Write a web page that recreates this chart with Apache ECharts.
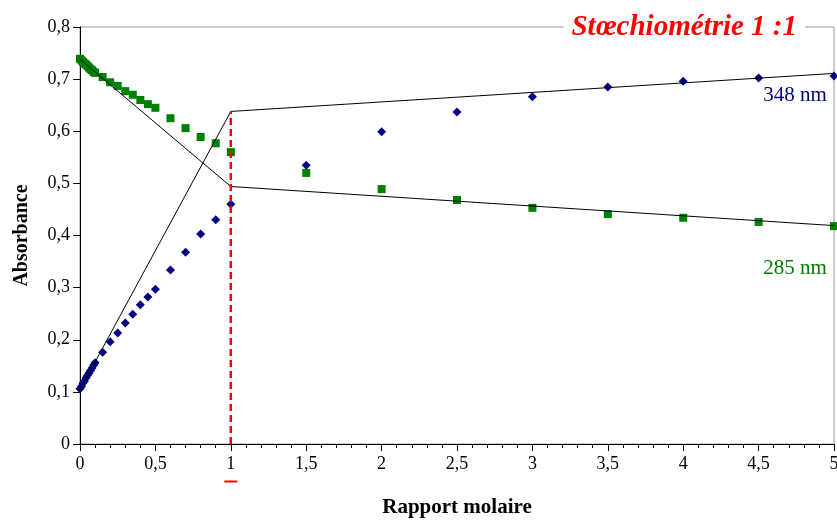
<!DOCTYPE html>
<html>
<head>
<meta charset="utf-8">
<script src="https://cdn.jsdelivr.net/npm/echarts@6/dist/echarts.min.js"></script>
<style>
  html, body { margin: 0; padding: 0; background: #fff; }
  #chart { width: 837px; height: 520px; }
</style>
</head>
<body>
<div id="chart"></div>
<script>
// Molar ratio (x) and absorbance readings at the two wavelengths
const ratios = [0, 0.01, 0.02, 0.03, 0.04, 0.05, 0.06, 0.07, 0.08, 0.09, 0.1,
  0.15, 0.2, 0.25, 0.3, 0.35, 0.4, 0.45, 0.5, 0.6, 0.7, 0.8, 0.9, 1,
  1.5, 2, 2.5, 3, 3.5, 4, 4.5, 5];
const abs348 = [0.106, 0.111, 0.117, 0.121, 0.127, 0.132, 0.136, 0.141, 0.146, 0.151, 0.156,
  0.176, 0.196, 0.213, 0.232, 0.249, 0.267, 0.282, 0.297, 0.334, 0.368, 0.403, 0.430, 0.460,
  0.535, 0.599, 0.637, 0.666, 0.685, 0.696, 0.702, 0.706];
const abs285 = [0.739, 0.736, 0.733, 0.730, 0.728, 0.725, 0.722, 0.719, 0.717, 0.714, 0.712,
  0.704, 0.694, 0.687, 0.677, 0.670, 0.660, 0.652, 0.645, 0.625, 0.606, 0.589, 0.577, 0.560,
  0.520, 0.489, 0.468, 0.453, 0.441, 0.434, 0.426, 0.418];

// Two-segment linear fits, breaking at the equivalence ratio
const fitX = [0, 1, 5];
const fit348 = [0.104, 0.638, 0.711];
const fit285 = [0.738, 0.494, 0.419];
const equivRatio = 1;

const xTicks = { min: 0, max: 5, interval: 0.5 };
const yTicks = { min: 0, max: 0.8, interval: 0.1 };

const NAVY = '#000080';
const GREEN = '#008000';
const SERIF = '"Liberation Serif", "Times New Roman", serif';
const comma = v => String(+v.toFixed(2)).replace('.', ',');

const pts = (xs, ys) => xs.map((x, i) => [x, ys[i]]);
const last = ratios.length - 1;

const chart = echarts.init(document.getElementById('chart'), null, { renderer: 'canvas' });
chart.setOption({
  animation: false,
  backgroundColor: '#fff',
  title: {
    text: 'Stœchiométrie 1 :1',
    right: 32,
    top: 13,
    padding: [0, 8],
    backgroundColor: '#fff',
    textStyle: {
      fontFamily: SERIF, fontSize: 29, fontWeight: 'bold', fontStyle: 'italic',
      color: '#ff0000', lineHeight: 30
    }
  },
  grid: {
    left: 80, right: 3, top: 27, bottom: 76,
    containLabel: false, outerBoundsMode: 'none',
    show: true, borderColor: '#999', borderWidth: 1, backgroundColor: 'transparent'
  },
  xAxis: {
    type: 'value',
    min: xTicks.min, max: xTicks.max, interval: xTicks.interval,
    name: 'Rapport molaire',
    nameLocation: 'middle', nameGap: 53,
    nameTextStyle: { fontFamily: SERIF, fontSize: 21, fontWeight: 'bold', color: '#000' },
    axisLine: { lineStyle: { color: '#000', width: 1 } },
    axisTick: { length: 7, lineStyle: { color: '#000' } },
    minorTick: { show: true, splitNumber: 5, length: 4, lineStyle: { color: '#000' } },
    splitLine: { show: false },
    axisLabel: {
      margin: 10, fontFamily: SERIF, fontSize: 18, color: '#000',
      formatter: v => v === equivRatio ? '{v|' + comma(v) + '}\n{u|}' : '{v|' + comma(v) + '}',
      rich: {
        v: { fontFamily: SERIF, fontSize: 18, color: '#000', lineHeight: 20 },
        u: { width: 13, height: 2, backgroundColor: '#ff0000', lineHeight: 15 }
      }
    }
  },
  yAxis: {
    type: 'value',
    min: yTicks.min, max: yTicks.max, interval: yTicks.interval,
    name: 'Absorbance',
    nameLocation: 'middle', nameGap: 48, nameRotate: 90,
    nameTextStyle: { fontFamily: SERIF, fontSize: 20, fontWeight: 'bold', color: '#000' },
    axisLine: { show: true, lineStyle: { color: '#000', width: 1 } },
    axisTick: { show: true, length: 7, lineStyle: { color: '#000' } },
    splitLine: { show: false },
    axisLabel: { margin: 10, fontFamily: SERIF, fontSize: 18, color: '#000', formatter: comma }
  },
  series: [
    {
      name: '348 nm',
      type: 'scatter',
      symbol: 'diamond', symbolSize: [9, 9],
      itemStyle: { color: NAVY, opacity: 1 },
      data: pts(ratios, abs348),
      z: 2,
      label: {
        show: true, position: 'bottom', distance: 4, offset: [-39, 0],
        fontFamily: SERIF, fontSize: 21, color: NAVY,
        formatter: p => p.dataIndex === last ? '348 nm' : ''
      }
    },
    {
      name: '285 nm',
      type: 'scatter',
      symbol: 'rect', symbolSize: [8, 8],
      itemStyle: { color: GREEN, opacity: 1 },
      data: pts(ratios, abs285),
      z: 2,
      label: {
        show: true, position: 'bottom', distance: 28, offset: [-39, 0],
        fontFamily: SERIF, fontSize: 21, color: GREEN,
        formatter: p => p.dataIndex === last ? '285 nm' : ''
      }
    },
    {
      type: 'line', data: pts(fitX, fit348), showSymbol: false, symbol: 'none',
      lineStyle: { color: '#000', width: 1 }, z: 3, silent: true
    },
    {
      type: 'line', data: pts(fitX, fit285), showSymbol: false, symbol: 'none',
      lineStyle: { color: '#000', width: 1 }, z: 3, silent: true
    },
    {
      // equivalence marker
      type: 'line', data: [[equivRatio, 0], [equivRatio, fit348[1]]],
      showSymbol: false, symbol: 'none',
      lineStyle: { color: '#ff0000', width: 2.5, type: [7, 4] }, z: 4, silent: true
    }
  ]
});
</script>
</body>
</html>
